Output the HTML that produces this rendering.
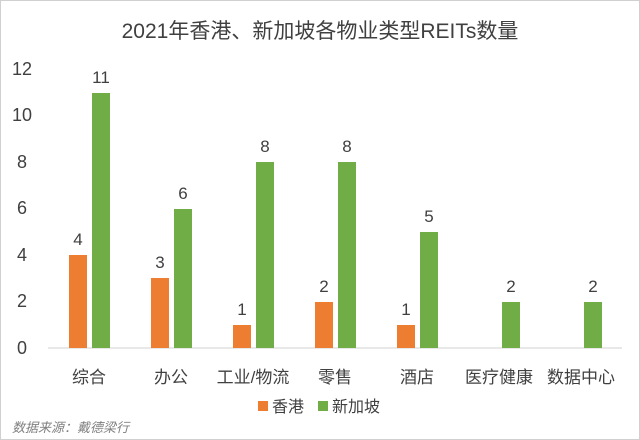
<!DOCTYPE html>
<html><head><meta charset="utf-8"><style>
body{margin:0;background:#fff}
svg{display:block}
text{font-family:"Liberation Sans","Noto Sans CJK SC",sans-serif}
</style></head><body>
<svg width="640" height="440" viewBox="0 0 640 440">
<rect x="0.5" y="0.5" width="639" height="439" fill="#fff" stroke="#d0d0d0"/>
<text x="320" y="38" text-anchor="middle" font-size="21" fill="#404040">2021年香港、新加坡各物业类型REITs数量</text>
<g font-size="18" fill="#404040" text-anchor="middle">
<text x="22" y="354">0</text><text x="22" y="307">2</text><text x="22" y="261">4</text>
<text x="22" y="214">6</text><text x="22" y="168">8</text><text x="22" y="121">10</text><text x="22" y="75">12</text>
</g>
<line x1="48" y1="348" x2="622" y2="348" stroke="#d0d0d0"/>
<g font-size="17" fill="#404040" text-anchor="middle">
<rect x="69" y="255" width="18" height="93" fill="#ed7d31"/><rect x="92" y="93" width="18" height="255" fill="#70ad47"/>
<text x="78" y="245">4</text><text x="101" y="83">11</text>
<rect x="151" y="278" width="18" height="70" fill="#ed7d31"/><rect x="174" y="209" width="18" height="139" fill="#70ad47"/>
<text x="160" y="268">3</text><text x="183" y="199">6</text>
<rect x="233" y="325" width="18" height="23" fill="#ed7d31"/><rect x="256" y="162" width="18" height="186" fill="#70ad47"/>
<text x="242" y="315">1</text><text x="265" y="152">8</text>
<rect x="315" y="302" width="18" height="46" fill="#ed7d31"/><rect x="338" y="162" width="18" height="186" fill="#70ad47"/>
<text x="324" y="292">2</text><text x="347" y="152">8</text>
<rect x="397" y="325" width="18" height="23" fill="#ed7d31"/><rect x="420" y="232" width="18" height="116" fill="#70ad47"/>
<text x="406" y="315">1</text><text x="429" y="222">5</text>
<rect x="502" y="302" width="18" height="46" fill="#70ad47"/><text x="511" y="292">2</text>
<rect x="584" y="302" width="18" height="46" fill="#70ad47"/><text x="593" y="292">2</text>
</g>
<g font-size="17" fill="#404040" text-anchor="middle">
<text x="89" y="383">综合</text><text x="171" y="383">办公</text><text x="253" y="383">工业/物流</text>
<text x="335" y="383">零售</text><text x="417" y="383">酒店</text><text x="499" y="383">医疗健康</text><text x="581" y="383">数据中心</text>
</g>
<rect x="258" y="401" width="10" height="10" fill="#ed7d31"/>
<text x="272" y="412" font-size="16" fill="#404040">香港</text>
<rect x="318" y="401" width="10" height="10" fill="#70ad47"/>
<text x="332" y="412" font-size="16" fill="#404040">新加坡</text>
<text x="12" y="432" font-size="13" font-style="italic" fill="#7f7f7f">数据来源：戴德梁行</text>
</svg>
</body></html>
